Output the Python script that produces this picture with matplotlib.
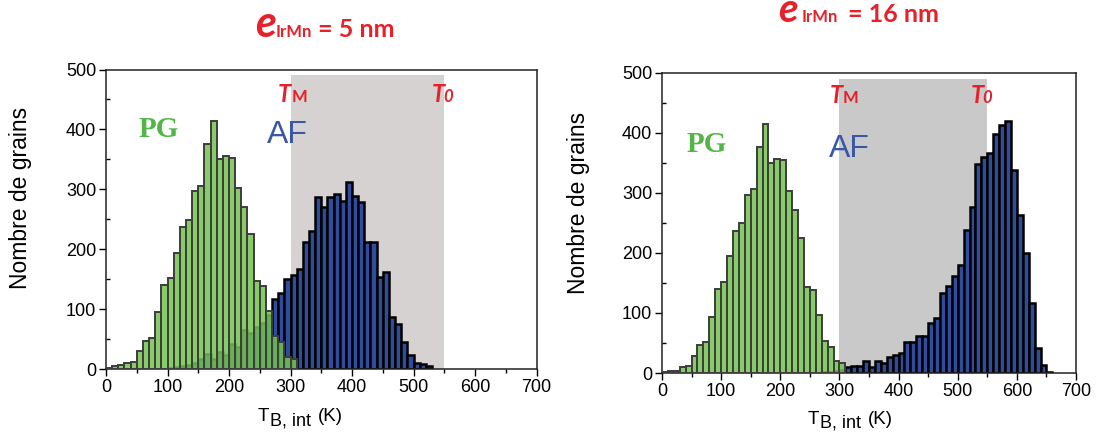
import matplotlib
matplotlib.use("Agg")
import matplotlib.pyplot as plt
from matplotlib.ticker import MultipleLocator
import numpy as np

plt.rcParams["mathtext.fontset"] = "custom"
plt.rcParams["mathtext.bfit"] = "Lato:italic:bold"
plt.rcParams["mathtext.it"] = "Lato:italic:bold"

W, H = 1097, 434
BIN = 10

# ---- data (counts per 10 K bin) ----
pg_left_start = 0
pg_left = [3, 5, 7, 11, 13, 31, 48, 53, 96, 140, 152, 194, 238, 249, 297, 306,
           375, 414, 351, 356, 353, 303, 271, 225, 147, 139, 97, 56, 46, 21, 17]
af_left_start = 100
af_left = [3, 4, 5, 7, 10, 17, 26, 18, 29, 24, 42, 37, 66, 60, 71, 78, 90, 117,
           127, 150, 157, 167, 213, 231, 287, 271, 287, 292, 281, 312, 289, 279,
           212, 212, 154, 162, 87, 75, 46, 24, 10, 9, 6]

pg_right_start = 0
pg_right = [2, 3, 3, 10, 12, 29, 46, 51, 94, 139, 152, 194, 237, 249, 297, 306,
            376, 414, 350, 356, 354, 302, 271, 224, 143, 138, 97, 54, 44, 20, 16]
af_right_start = 270
af_right = [2, 2, 3, 5, 10, 12, 12, 20, 10, 20, 16, 26, 30, 33, 51, 51, 61, 61,
            84, 91, 133, 144, 162, 179, 238, 276, 348, 359, 366, 398, 412, 419,
            337, 263, 199, 116, 41, 14, 2]

window = (300, 550)          # T_M .. T_0 shaded zone
window_top = 490
titles = ["5 nm", "16 nm"]
x_ticks = [0, 100, 200, 300, 400, 500, 600, 700]
y_ticks = [0, 100, 200, 300, 400, 500]

RED = "#e62129"
GREEN_FACE = (0.45, 0.76, 0.31, 0.85)
GREEN_EDGE = "#3d3d3d"
BLUE_FACE = "#2f4d9f"
AF_TXT = "#3a56a6"
PG_TXT = "#52b646"

fig = plt.figure(figsize=(W / 100, H / 100), dpi=100)

def fx(x):
    return x / W

def fy(y):
    return 1 - y / H

def make_axes(l, t, r, b):
    return fig.add_axes([fx(l), fy(b), fx(r) - fx(l), fy(t) - fy(b)])

panels = [
    dict(box=(106, 69.5, 536.5, 369.3), pg=(pg_left_start, pg_left),
         af=(af_left_start, af_left), gray="#d6d2d2",
         tm=280, t0=529, tlab_y=445, af_pos=(262, 377), pg_pos=(53, 387),
         xl=(258, 421), yl=(21, 198)),
    dict(box=(662, 72.5, 1076, 373), pg=(pg_right_start, pg_right),
         af=(af_right_start, af_right), gray="#c9c9c9",
         tm=283, t0=522, tlab_y=450, af_pos=(283, 360), pg_pos=(42, 368),
         xl=(808, 424), yl=(579, 203)),
]

for p in panels:
    ax = make_axes(*p["box"])
    ax.set_xlim(0, 700)
    ax.set_ylim(0, 500)
    ax.axvspan(window[0], window[1], ymin=0, ymax=window_top / 500,
               color=p["gray"], lw=0, zorder=1)
    s, v = p["af"]
    xs = s + BIN * np.arange(len(v))
    ax.bar(xs, v, width=BIN, align="edge", color=BLUE_FACE, edgecolor="black",
           linewidth=1.8, zorder=2)
    s, v = p["pg"]
    xs = s + BIN * np.arange(len(v))
    ax.bar(xs, v, width=BIN, align="edge", facecolor=GREEN_FACE,
           edgecolor=GREEN_EDGE, linewidth=1.4, zorder=3)

    ax.set_xticks(x_ticks)
    ax.set_yticks(y_ticks)
    ax.xaxis.set_minor_locator(MultipleLocator(50))
    ax.yaxis.set_minor_locator(MultipleLocator(50))
    ax.tick_params(which="major", direction="out", length=5, width=1,
                   labelsize=13, pad=2)
    ax.tick_params(axis="y", which="minor", direction="in", length=3, width=1)
    ax.tick_params(axis="x", which="minor", direction="out", length=3, width=1)
    for lab in ax.get_xticklabels() + ax.get_yticklabels():
        lab.set_fontfamily("Liberation Sans")
    for sp in ax.spines.values():
        sp.set_linewidth(1.1)
        sp.set_color("#222222")

    # annotations
    ax.text(p["tm"], p["tlab_y"], "T", color=RED, fontsize=17,
            fontweight="bold", fontstyle="italic", family="Lato",
            va="baseline", ha="left", zorder=5)
    ax.annotate("M", xy=(p["tm"], p["tlab_y"]), xytext=(13, 0),
                textcoords="offset pixels", color=RED, fontsize=12,
                fontweight="bold", family="Lato", va="baseline", ha="left",
                zorder=5)
    ax.text(p["t0"], p["tlab_y"], "T", color=RED, fontsize=17,
            fontweight="bold", fontstyle="italic", family="Lato",
            va="baseline", ha="left", zorder=5)
    ax.annotate("0", xy=(p["t0"], p["tlab_y"]), xytext=(12, 0),
                textcoords="offset pixels", color=RED, fontsize=12,
                fontweight="bold", fontstyle="italic", family="Lato",
                va="baseline", ha="left", zorder=5)
    ax.text(p["af_pos"][0], p["af_pos"][1], "AF", color=AF_TXT, fontsize=23,
            family="Liberation Sans", va="baseline", ha="left", zorder=5)
    ax.text(p["pg_pos"][0], p["pg_pos"][1], "PG", color=PG_TXT, fontsize=21,
            family="Liberation Serif", fontweight="bold", va="baseline",
            ha="left", zorder=5)

    # x label: T with lowered "B, int" then (K)
    x0, yb = p["xl"]
    fig.text(fx(x0), fy(yb), "T", fontsize=13.5, family="Liberation Sans",
             ha="left", va="baseline")
    fig.text(fx(x0 + 12), fy(yb + 4), "B, int", fontsize=13,
             family="Liberation Sans", ha="left", va="baseline")
    fig.text(fx(x0 + 60), fy(yb), "(K)", fontsize=13.5,
             family="Liberation Sans", ha="left", va="baseline")
    fig.text(fx(p["yl"][0]), fy(p["yl"][1]), "Nombre de grains", fontsize=16.5,
             family="Liberation Sans", rotation=90, ha="center", va="center")

# titles
title_specs = [
    dict(e=255, sub=276, rest=318, base=37, esize=31, txt=titles[0]),
    dict(e=778, sub=802, rest=848, base=22, esize=29, txt=titles[1]),
]
for t in title_specs:
    fig.text(fx(t["e"]), fy(t["base"]), r"$\mathit{e}$", color=RED,
             fontsize=t["esize"], va="baseline", ha="left")
    fig.text(fx(t["sub"]), fy(t["base"]), "IrMn", color=RED, fontsize=12,
             fontweight="bold", family="Lato", va="baseline", ha="left")
    fig.text(fx(t["rest"]), fy(t["base"]), "= " + t["txt"], color=RED,
             fontsize=18, fontweight="bold", family="Lato", va="baseline",
             ha="left")

fig.savefig("out.png", dpi=100)
